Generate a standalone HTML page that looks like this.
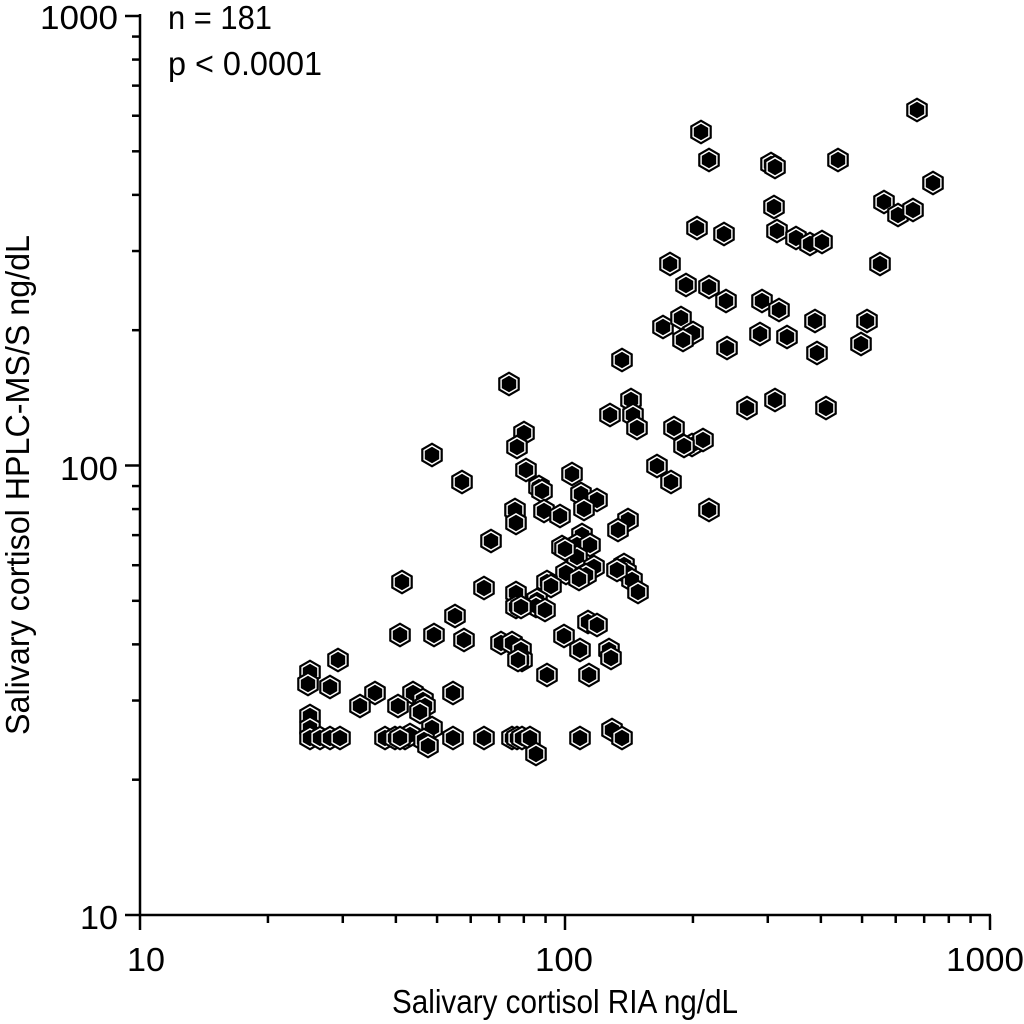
<!DOCTYPE html>
<html><head><meta charset="utf-8"><style>
html,body{margin:0;padding:0;background:#fff;}
svg{display:block;font-family:"Liberation Sans",sans-serif;}
</style></head><body>
<svg id="s" width="1024" height="1024" viewBox="0 0 1024 1024" xmlns="http://www.w3.org/2000/svg">
<defs>
<g id="m">
<polygon points="0,-12.5 10.8,-6.25 10.8,6.25 0,12.5 -10.8,6.25 -10.8,-6.25" fill="#000"/>
<polygon points="0,-10 8.6,-5 8.6,5 0,10 -8.6,5 -8.6,-5" fill="#fff"/>
<polygon points="0,-8.3 7.2,-4.15 7.2,4.15 0,8.3 -7.2,4.15 -7.2,-4.15" fill="#000"/>
</g>
</defs>
<g id="pts"></g>
<g id="ax" stroke="#000" stroke-width="2.5" fill="none">
<line x1="140" y1="14" x2="140" y2="916"/>
<line x1="139" y1="915" x2="991" y2="915"/>
</g>
<g font-size="33" fill="#000">
<text x="40" y="29" textLength="78" lengthAdjust="spacingAndGlyphs">1000</text>
<text x="60" y="480" textLength="58" lengthAdjust="spacingAndGlyphs">100</text>
<text x="80" y="929" textLength="38" lengthAdjust="spacingAndGlyphs">10</text>
<text x="127" y="971" textLength="38" lengthAdjust="spacingAndGlyphs">10</text>
<text x="535" y="971" textLength="58" lengthAdjust="spacingAndGlyphs">100</text>
<text x="946" y="971" textLength="78" lengthAdjust="spacingAndGlyphs">1000</text>
<text x="168" y="29" textLength="104" lengthAdjust="spacingAndGlyphs">n = 181</text>
<text x="168" y="75" textLength="154" lengthAdjust="spacingAndGlyphs">p &lt; 0.0001</text>
</g>
<text x="392" y="1013" font-size="33" textLength="346" lengthAdjust="spacingAndGlyphs">Salivary cortisol RIA ng/dL</text>
<text transform="translate(29,735) rotate(-90)" font-size="33" textLength="500" lengthAdjust="spacingAndGlyphs">Salivary cortisol HPLC-MS/S ng/dL</text>
</svg>
<script>
var ns="http://www.w3.org/2000/svg",ax=document.getElementById("ax");
function L(a,b,c,d){var l=document.createElementNS(ns,"line");l.setAttribute("x1",a);l.setAttribute("y1",b);l.setAttribute("x2",c);l.setAttribute("y2",d);ax.appendChild(l);}
for(var dec=0;dec<2;dec++)for(var k=1;k<=10;k++){if(k==10&&dec==0)continue;
var f=Math.log10(k);var x=140+425*(dec+f);var y=915-449.5*(dec+f);
var major=(k==1||k==10);L(x,915,x,major?930:923);L(140,y,major?125:132,y);}
var P=[[917,110],[701,132],[709,160],[771,164],[775,167],[838,160],[933,183],[884,202],[898,215],[913,210],[774,207],[697,228],[724,234],[777,231],[796,238],[810,244],[822,242],[670,264],[880,264],[686,285],[709,287],[726,301],[762,301],[779,310],[663,327],[681,318],[693,333],[683,340],[760,334],[787,337],[815,321],[867,321],[817,353],[861,344],[727,348],[622,360],[509,384],[631,400],[633,415],[610,415],[637,428],[775,400],[747,408],[826,408],[674,428],[692,445],[703,440],[684,446],[524,433],[517,447],[432,455],[657,466],[671,482],[462,482],[526,470],[539,487],[542,491],[572,474],[709,510],[581,494],[597,500],[584,509],[515,510],[544,511],[560,516],[516,523],[628,520],[618,530],[491,541],[582,535],[577,545],[590,545],[562,547],[577,557],[565,549],[594,567],[624,565],[626,572],[632,580],[638,592],[617,570],[586,575],[566,573],[579,579],[547,582],[551,586],[484,588],[402,582],[516,593],[516,607],[537,600],[536,606],[521,607],[545,610],[455,616],[464,640],[434,635],[400,635],[588,622],[597,625],[564,636],[501,643],[512,643],[521,650],[522,660],[518,660],[580,650],[609,650],[611,658],[589,675],[547,675],[453,693],[375,693],[360,706],[338,660],[310,672],[308,684],[330,687],[413,693],[423,700],[425,706],[420,712],[398,706],[310,716],[310,728],[310,738],[320,738],[330,738],[340,738],[385,738],[395,738],[405,738],[410,735],[432,728],[424,740],[400,738],[428,746],[453,738],[484,738],[512,738],[517,738],[522,738],[530,738],[536,754],[580,738],[612,730],[622,738]];
var g=document.getElementById("pts");
P.forEach(function(p){var u=document.createElementNS(ns,"use");u.setAttribute("href","#m");u.setAttributeNS("http://www.w3.org/1999/xlink","xlink:href","#m");u.setAttribute("x",p[0]);u.setAttribute("y",p[1]);g.appendChild(u);});
</script>
</body></html>
